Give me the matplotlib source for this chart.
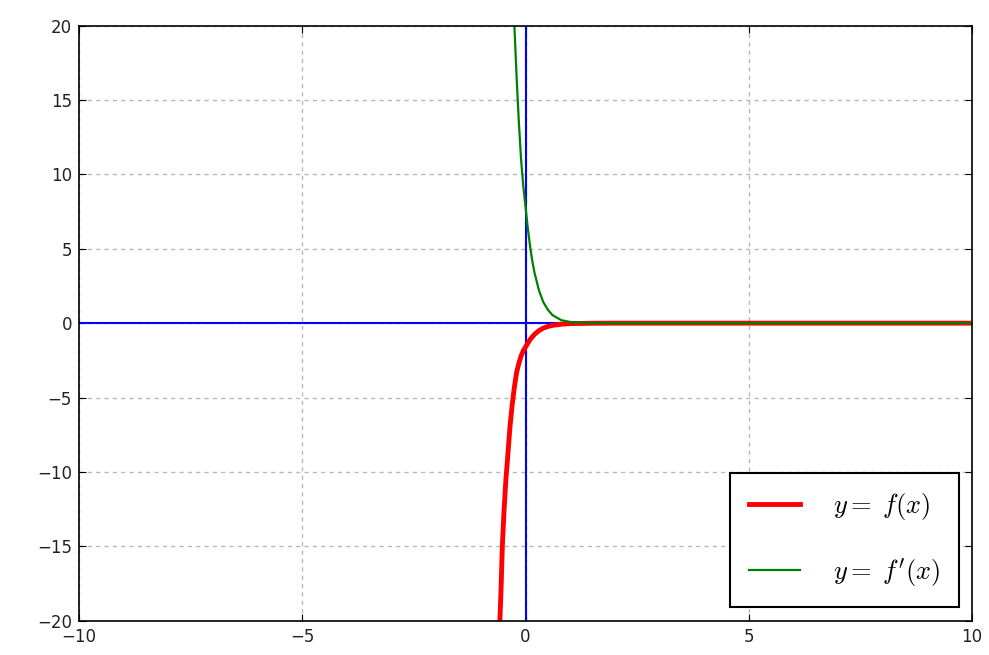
import numpy as np
import matplotlib
matplotlib.use("Agg")
import matplotlib.pyplot as plt

# points
x_f = [-0.6, -0.575, -0.55, -0.52, -0.48, -0.44, -0.4, -0.35, -0.3, -0.25, -0.2, -0.15,
       -0.1, -0.05, 0.0, 0.1, 0.2, 0.3, 0.4, 0.5, 0.6, 0.8, 1.0, 1.5, 2.0, 10.0]
y_f = [-22.0, -20.0, -18.0, -15.0, -12.5, -10.5, -9.0, -7.0, -5.5, -4.3, -3.3, -2.7,
       -2.2, -1.85, -1.6, -1.1, -0.75, -0.5, -0.33, -0.22, -0.15, -0.07, -0.03, -0.005, 0.0, 0.0]

x_df = [-0.3, -0.25, -0.2, -0.15, -0.1, -0.05, 0.0, 0.05, 0.1, 0.15, 0.2, 0.3, 0.4,
        0.5, 0.6, 0.8, 1.0, 1.5, 2.0, 10.0]
y_df = [24.0, 20.0, 16.5, 13.5, 11.0, 9.2, 7.8, 6.4, 5.2, 4.2, 3.4, 2.2, 1.4,
        0.9, 0.55, 0.2, 0.08, 0.01, 0.0, 0.0]

plt.rcParams['mathtext.fontset'] = 'cm'
plt.rcParams['xtick.direction'] = 'in'
plt.rcParams['ytick.direction'] = 'in'
plt.rcParams['xtick.top'] = True
plt.rcParams['ytick.right'] = True
plt.rcParams['xtick.major.size'] = 5
plt.rcParams['ytick.major.size'] = 5

fig = plt.figure(figsize=(9.89, 6.55), dpi=100)
ax = fig.add_axes([0.0799, 0.0524, 0.903, 0.9084])

ax.axhline(0, color='blue', lw=1.5)
ax.axvline(0, color='blue', lw=1.5)
ax.plot(x_f, y_f, color='red', lw=3.5, label=r'$y{=}\;f(x)$')
ax.plot(x_df, y_df, color='green', lw=1.6, label=r"$y{=}\;f'(x)$")

ax.set_xlim(-10, 10)
ax.set_ylim(-20, 20)
ax.set_xticks([-10, -5, 0, 5, 10])
ax.set_yticks(np.arange(-20, 21, 5))
ax.tick_params(labelsize=12, pad=5, labelcolor='#222222')
ax.grid(True, color='#b8b8b8', linestyle=(0, (3, 3)), lw=1)
for s in ax.spines.values():
    s.set_linewidth(1.2)

leg = ax.legend(loc='lower right', fontsize=19, fancybox=False, framealpha=1,
                edgecolor='black', handlelength=1.95, handletextpad=1.25,
                borderpad=0.7, labelspacing=1.3, borderaxespad=0.5)
leg.get_frame().set_linewidth(1.5)

fig.savefig('out.png', dpi=100)
